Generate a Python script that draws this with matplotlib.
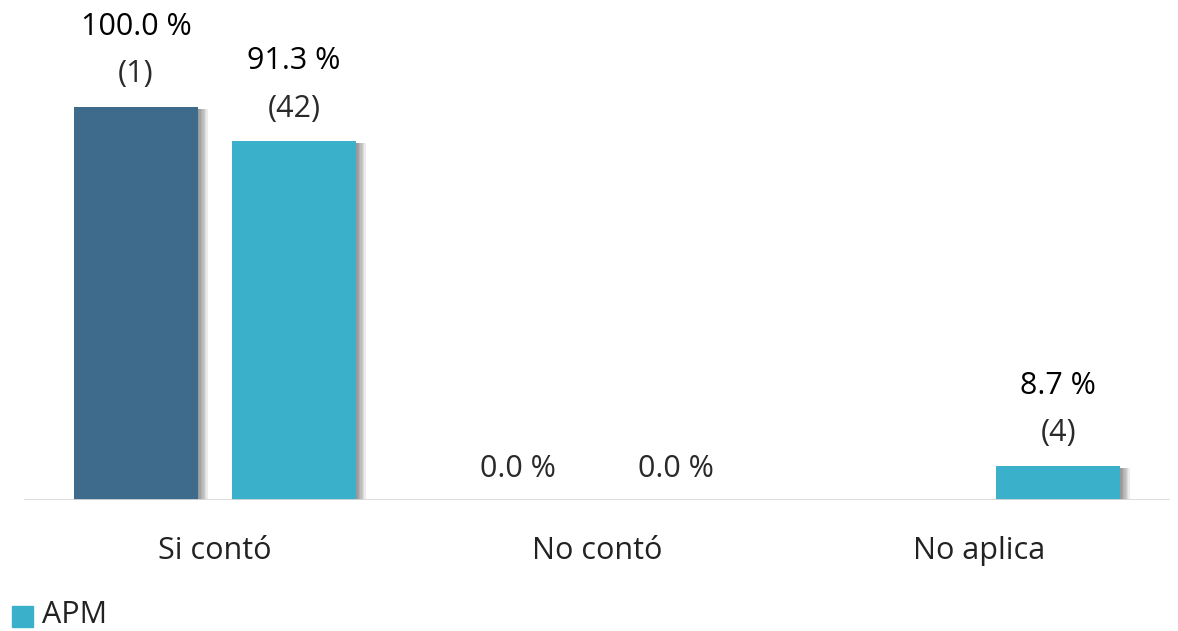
import numpy as np
import matplotlib.pyplot as plt
import matplotlib.patheffects as pe

categories = ["Si contó", "No contó", "No aplica"]
series_names = ["Total", "APM"]
pct_total = [100.0, 0.0, None]
cnt_total = [1, 0, None]
pct_apm = [91.3, 0.0, 8.7]
cnt_apm = [42, 0, 4]

colors = ["#3E6A8C", "#3AB0CA"]

plt.rcParams["font.family"] = ["Open Sans", "DejaVu Sans"]

W, H = 1178, 631
fig = plt.figure(figsize=(W / 100, H / 100), dpi=100)
# axes: x from 24px to 1170px, y baseline at 500px, 100% at 107px
ax = fig.add_axes([24 / W, (H - 500) / H, (1170 - 24) / W, (500 - 107) / H])
ax.set_xlim(-0.5, 2.5)
ax.set_ylim(0, 100)

x = np.arange(len(categories))
width = 0.325
offset = 0.207
# soft shadow on the right / bottom of each bar
shadow = [pe.SimplePatchShadow(offset=(k, -1.5), shadow_rgbFace="#333333", alpha=0.09)
          for k in range(1, 8)] + [pe.Normal()]

fs = 22
for i, (pcts, cnts) in enumerate([(pct_total, cnt_total), (pct_apm, cnt_apm)]):
    xs = x + (offset if i == 1 else -offset)
    for xi, p, c in zip(xs, pcts, cnts):
        if p is None:
            continue
        if p > 0:
            b = ax.bar(xi, p, width, color=colors[i], zorder=3)
            for r in b:
                r.set_path_effects(shadow)
            ax.text(xi, p + 8.3, f"({c})", ha="center", va="center", fontsize=fs,
                    color="#2a2a2a", clip_on=False)
            ax.text(xi, p + 20.3, f"{p:.1f} %", ha="center", va="center", fontsize=fs,
                    color="black", clip_on=False)
        else:
            ax.text(xi, 8.0, f"{p:.1f} %", ha="center", va="center", fontsize=fs,
                    color="#2a2a2a", clip_on=False)

ax.axhline(0, color="#d9d9d9", lw=2, zorder=4)
for s in ax.spines.values():
    s.set_visible(False)
ax.set_yticks([])
ax.set_xticks(x)
ax.set_xticklabels(categories, fontsize=fs, color="#222222")
ax.tick_params(axis="x", length=0, pad=26)

# legend showing APM only
fig.patches.append(plt.Rectangle((12 / W, (H - 627) / H), 21 / W, 21 / H,
                                 transform=fig.transFigure, color=colors[1]))
fig.text(42 / W, (H - 615) / H, series_names[1], fontsize=22, va="center", color="#222222")

fig.savefig("out.png", dpi=100)
